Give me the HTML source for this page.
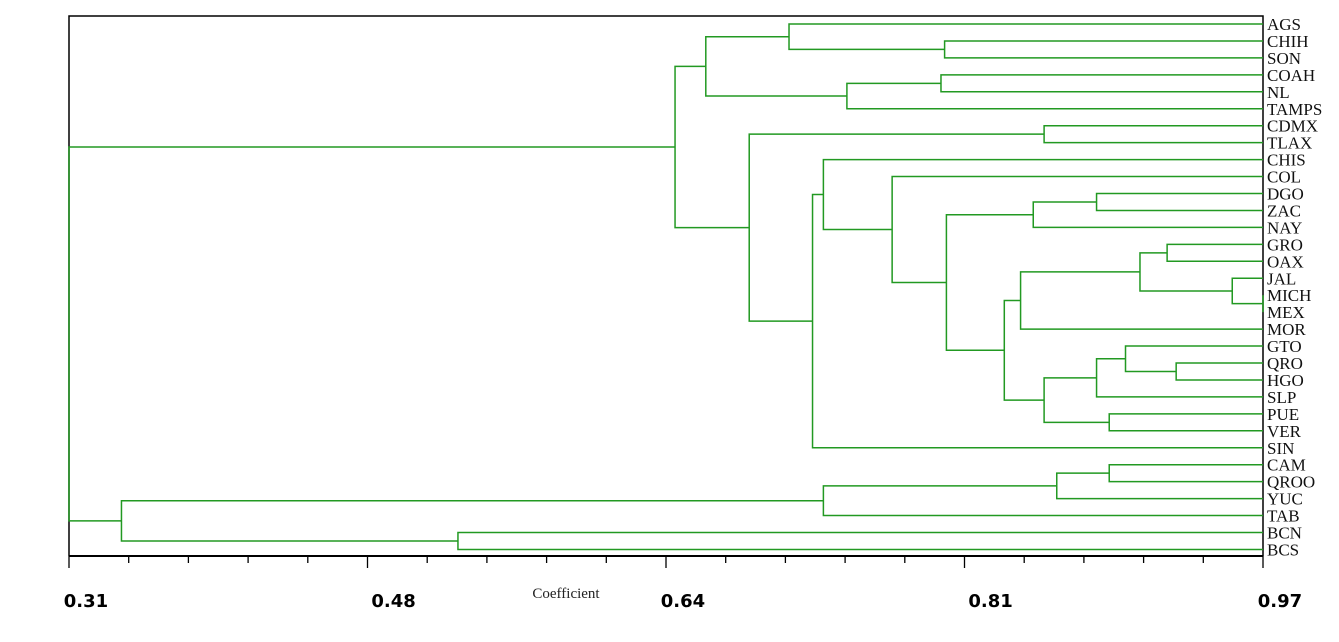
<!DOCTYPE html>
<html><head><meta charset="utf-8"><style>
html,body{margin:0;padding:0;background:#fff;}
svg{display:block;}
</style></head><body>
<svg id="chart" width="1339" height="642" xmlns="http://www.w3.org/2000/svg">
<g id="frame"></g>
<g id="links"></g>
<g id="labels"></g>
<g id="axis"></g>
<text x="566" y="598" text-anchor="middle" font-family="Liberation Serif, serif" font-size="15" fill="#222">Coefficient</text>
</svg>
<script>
const leaves = ["AGS","CHIH","SON","COAH","NL","TAMPS","CDMX","TLAX","CHIS","COL","DGO","ZAC","NAY","GRO","OAX","JAL","MICH","MEX","MOR","GTO","QRO","HGO","SLP","PUE","VER","SIN","CAM","QROO","YUC","TAB","BCN","BCS"];
// merges: child A, child B (leaf name or #clusterIndex), similarity height
const mergeA = ["CHIH","AGS","COAH","#2","#1","CDMX","DGO","#6","GRO","MICH","JAL","#8","#11","QRO","GTO","#14","PUE","#15","#12","#7","COL","CHIS","#21","#5","#4","CAM","#25","#26","BCN","#27","#24"];
const mergeB = ["SON","#0","NL","TAMPS","#3","TLAX","ZAC","NAY","OAX","MEX","#9","#10","MOR","HGO","#13","SLP","VER","#16","#17","#18","#19","#20","SIN","#22","#23","QROO","YUC","TAB","BCS","#28","#29"];
const mergeH = [0.794,0.708,0.792,0.740,0.662,0.849,0.878,0.843,0.917,0.970,0.953,0.902,0.836,0.922,0.894,0.878,0.885,0.849,0.827,0.795,0.765,0.727,0.721,0.686,0.645,0.885,0.856,0.727,0.525,0.339,0.310];
const tickVals = [0.31,0.48,0.64,0.81,0.97];
const tickLabels = ["0.31","0.48","0.64","0.81","0.97"];

const X0=69, X1=1263, Y0=16, Y1=556;
const vmin=0.31, vmax=0.97;
const xs = v => X0 + (v-vmin)/(vmax-vmin)*(X1-X0);
const ys = i => 24 + i*16.95;
const NS="http://www.w3.org/2000/svg";
function mk(tag, attrs, parent){const e=document.createElementNS(NS,tag);for(const k in attrs)e.setAttribute(k,attrs[k]);parent.appendChild(e);return e;}

const frame=document.getElementById('frame');
const fr=mk('path',{d:`M${X0},${Y1} L${X0},${Y0} L${X1},${Y0} L${X1},${Y1}`,fill:'none',stroke:'#000','stroke-width':1.5},frame);



const links=document.getElementById('links');
const labels=document.getElementById('labels');
const pos={};
leaves.forEach((n,i)=>{
  pos[n]={x:xs(vmax),y:ys(i)};
  const t=mk('text',{x:1267,y:ys(i)+6,'font-family':'Liberation Serif, serif','font-size':17,fill:'#111'},labels);
  t.textContent=n;
  
  
});
const cl=[];
function get(k){return k[0]==='#'?cl[+k.slice(1)]:pos[k];}
for(let m=0;m<mergeA.length;m++){
  const a=get(mergeA[m]), b=get(mergeB[m]);
  const x=xs(mergeH[m]);
  const p=mk('path',{d:`M${a.x},${a.y} L${x},${a.y} L${x},${b.y} L${b.x},${b.y}`,fill:'none',stroke:'#229922','stroke-width':1.5},links);
  
  
  cl.push({x:x,y:(a.y+b.y)/2});
}

const axis=document.getElementById('axis');
const al=mk('line',{x1:X0,y1:Y1,x2:X1,y2:Y1,stroke:'#000','stroke-width':2},axis);


for(let k=0;k<=20;k++){
  const x=X0+(X1-X0)*k/20;
  const major=k%5===0;
  const tk=mk('line',{x1:x,y1:Y1,x2:x,y2:Y1+(major?12:7),stroke:'#000','stroke-width':1.3},axis);
  
  
}
tickVals.forEach((v,i)=>{
  const t=mk('text',{x:xs(v)+17,y:607,'text-anchor':'middle','font-family':'DejaVu Sans, sans-serif','font-size':18,'font-weight':'bold',fill:'#000'},axis);
  t.textContent=tickLabels[i];
  
  
});
</script>
</body></html>
